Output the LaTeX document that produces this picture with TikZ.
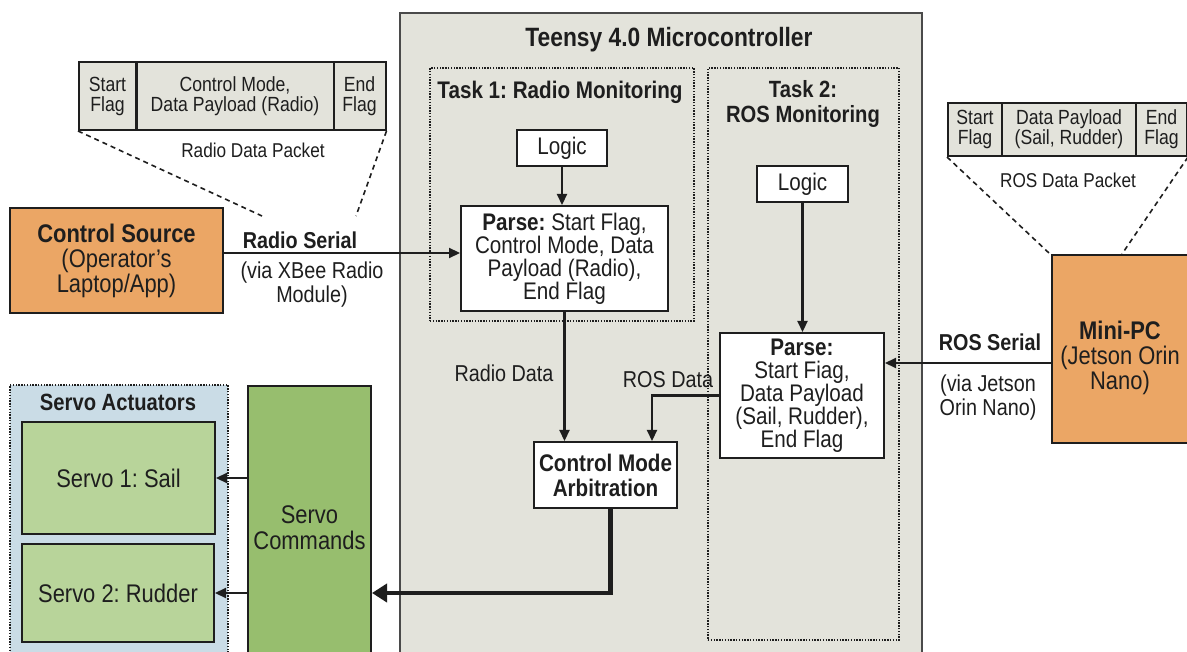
\documentclass[tikz,border=0pt]{standalone}
\usepackage{fontspec}
\setmainfont[FakeStretch=0.86]{Liberation Sans}
\usetikzlibrary{arrows.meta,calc}

\definecolor{chipfill}{HTML}{E3E3DB}
\definecolor{chipline}{HTML}{4A4A4A}
\definecolor{hostfill}{HTML}{EBA665}
\definecolor{servofill}{HTML}{B8D49A}
\definecolor{cmdfill}{HTML}{97BE6E}
\definecolor{actfill}{HTML}{CADCE6}
\definecolor{ink}{HTML}{1E1E1E}

\tikzset{
  box/.style={draw=ink, line width=2pt, fill=white, align=center, inner sep=2pt,
    text=ink, font=\fontsize{24}{23}\selectfont},
  servo/.style={box, font=\fontsize{25.5}{26}\selectfont},
  cell/.style={draw=ink, line width=2pt, fill=chipfill, align=center, inner sep=1pt,
    text=ink, font=\fontsize{20.5}{20}\selectfont},
  taskbox/.style={draw=ink, line width=1.6pt, dash pattern=on 1.4pt off 1.4pt},
  title/.style={text=ink, align=center, font=\bfseries\fontsize{24}{26}\selectfont},
  lbl/.style={text=ink, align=center, font=\fontsize{23}{24}\selectfont},
  blbl/.style={text=ink, align=center, font=\bfseries\fontsize{23}{24}\selectfont},
  arr/.style={draw=ink, line width=2.2pt, -{Triangle[length=11pt,width=10pt]}},
  fatarr/.style={draw=ink, line width=4.6pt, -{Triangle[length=15pt,width=18pt]}},
  pkline/.style={draw=ink, line width=1.6pt, dash pattern=on 5pt off 4pt},
}

\begin{document}
\frenchspacing
\begin{tikzpicture}[x=1pt,y=-1pt]
\useasboundingbox (0,0) rectangle (1187,652);
\clip (0,0) rectangle (1187,652);
\fill[white] (0,0) rectangle (1187,652);

% ---- microcontroller ----
\node[draw=chipline, line width=1.6pt, fill=chipfill, minimum width=522, minimum height=667] (teensy) at (661,346.5) {};
\node[title, font=\bfseries\fontsize{26.5}{28}\selectfont] (teensyt) at (669,40) {Teensy 4.0 Microcontroller};

% task 1
\node[taskbox, minimum width=264, minimum height=253] (task1) at (562,194.5) {};
\node[title] (task1t) at (560,92) {Task 1: Radio Monitoring};
\node[box, minimum width=90, minimum height=36] (logic1) at (562,148) {Logic};
\node[box, minimum width=207, minimum height=105] (parse1) at (564.5,258.5)
  {\textbf{Parse:} Start Flag,\\Control Mode, Data\\Payload (Radio),\\End Flag};

% task 2
\node[taskbox, minimum width=191, minimum height=572] (task2) at (803.5,354) {};
\node[title, font=\bfseries\fontsize{23.5}{25}\selectfont] (task2t) at (803,104) {Task 2:\\ROS Monitoring};
\node[box, minimum width=91, minimum height=36] (logic2) at (802.5,184) {Logic};
\node[box, minimum width=164, minimum height=125] (parse2) at (802,395.5)
  {\textbf{Parse:}\\Start Fiag,\\Data Payload\\(Sail, Rudder),\\End Flag};

\node[box, font=\bfseries\fontsize{24}{25}\selectfont, minimum width=143, minimum height=66] (arb) at (605.5,475)
  {Control Mode\\Arbitration};

\draw[arr] (logic1) -- (parse1.north -| logic1);
\draw[arr] (logic2) -- (parse2.north -| logic2);
\draw[arr] (parse1.south) -- (parse1.south |- arb.north);
\draw[arr] (parse2.west) -| ($(arb.north)+(46.5,0)$);
\node[lbl] (radiodata) at (504,373) {Radio Data};
\node[lbl] (rosdata) at (668,380) {ROS Data};

% ---- radio side ----
\node[cell, minimum width=57, minimum height=68] (rp1) at (107.5,96) {Start\\Flag};
\node[cell, minimum width=197, minimum height=68] (rp2) at (235,96) {Control Mode,\\Data Payload (Radio)};
\node[cell, minimum width=52, minimum height=68] (rp3) at (359.5,96) {End\\Flag};
\node[lbl, font=\fontsize{20}{21}\selectfont] (rpl) at (253,150) {Radio Data Packet};
\coordinate (rpa) at (262,216);
\coordinate (rpb) at (356,216);
\draw[pkline] (rp1.south west) -- (rpa);
\draw[pkline] (rp3.south east) -- (rpb);

\node[box, fill=hostfill, minimum width=213, minimum height=105, font=\fontsize{25.5}{25}\selectfont] (src) at (116.5,260.5)
  {\textbf{Control Source}\\(Operator's\\Laptop/App)};
\coordinate (radout) at ($(src.east)+(0,-7.5)$);
\draw[arr] (radout) -- (radout -| parse1.west);
\node[blbl] (rsl) at (300,240) {Radio Serial};
\node[lbl] (rsv) at (312,285) {(via XBee Radio\\Module)};

% ---- ROS side ----
\node[cell, minimum width=54, minimum height=53] (qp1) at (975,129.5) {Start\\Flag};
\node[cell, minimum width=134, minimum height=53] (qp2) at (1069,129.5) {Data Payload\\(Sail, Rudder)};
\node[cell, minimum width=51, minimum height=53] (qp3) at (1161.5,129.5) {End\\Flag};
\node[lbl, font=\fontsize{20}{21}\selectfont] (qpl) at (1068,180) {ROS Data Packet};
\coordinate (qpa) at (1050,254);
\coordinate (qpb) at (1122,254);
\draw[pkline] (qp1.south west) -- (qpa);
\draw[pkline] (qp3.south east) -- (qpb);

\node[box, fill=hostfill, minimum width=136, minimum height=188,
  label={[text=ink, align=center, font=\fontsize{25.5}{25}\selectfont, yshift=-9pt]center:{\textbf{Mini-PC}\\(Jetson Orin\\Nano)}}] (mini) at (1120,349) {};
\coordinate (rosin) at ($(mini.west)+(0,14)$);
\draw[arr] (rosin) -- (rosin -| parse2.east);
\node[blbl] (rosl) at (990,342) {ROS Serial};
\node[lbl] (rosv) at (988,398) {(via Jetson\\Orin Nano)};

% ---- servo side ----
\node[taskbox, fill=actfill, minimum width=218, minimum height=285] (act) at (119,527.5) {};
\node[title, font=\bfseries\fontsize{23.5}{25}\selectfont] (actt) at (118,402) {Servo Actuators};
\node[servo, fill=servofill, minimum width=193, minimum height=112] (srv1) at (118.5,478) {Servo 1: Sail};
\node[servo, fill=servofill, minimum width=192, minimum height=98] (srv2) at (118,593) {Servo 2: Rudder};
\node[servo, fill=cmdfill, minimum width=123, minimum height=284] (cmds) at (309.5,528) {Servo\\Commands};

\draw[arr] (cmds.west |- srv1) -- (srv1.east);
\draw[arr] (cmds.west |- srv2) -- (srv2.east);
\draw[fatarr] ($(arb.south)+(5,0)$) |- (srv2 -| cmds.east);
\end{tikzpicture}
\end{document}
